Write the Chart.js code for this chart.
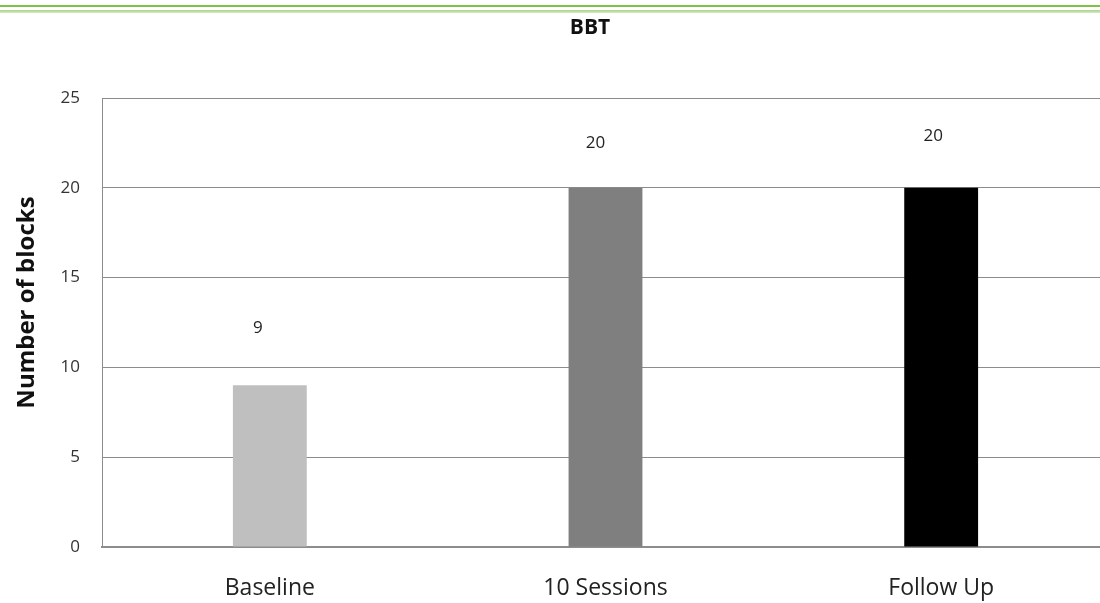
<!DOCTYPE html>
<html>
<head>
<meta charset="utf-8">
<script src="https://cdn.jsdelivr.net/npm/chart.js@4/dist/chart.umd.min.js"></script>
<style>
  html, body { margin: 0; padding: 0; background: #fff; overflow: hidden; }
  #wrap { position: relative; width: 1109px; height: 603px; }
  .rule { position: absolute; left: 0; width: 1100px; }
  #rule1 { top: 5px; height: 2px; background: #7dc243; }
  #rule2 { top: 10px; height: 3px; background: linear-gradient(#a8d48a, #d4eac4); }
</style>
</head>
<body>
<div id="wrap">
  <div class="rule" id="rule1"></div>
  <div class="rule" id="rule2"></div>
  <canvas id="c" width="1109" height="603"></canvas>
</div>
<script>
// Box and Block Test scores per assessment point
const chartTitle = 'BBT';
const categories = ['Baseline', '10 Sessions', 'Follow Up'];
const blocks = [9, 20, 20];
const barColors = ['#bfbfbf', '#7f7f7f', '#000000'];
const yTicks = [0, 5, 10, 15, 20, 25];
const yTitle = 'Number of blocks';

const FONT = '"Open Sans", sans-serif';

// value labels floating above each bar
const valueLabels = {
  id: 'valueLabels',
  afterDatasetsDraw(chart) {
    const ctx = chart.ctx;
    const meta = chart.getDatasetMeta(0);
    const lift = [57, 45, 52];
    ctx.save();
    ctx.font = '17px ' + FONT;
    ctx.fillStyle = '#222';
    ctx.textAlign = 'center';
    ctx.textBaseline = 'middle';
    meta.data.forEach((bar, i) => {
      ctx.fillText(String(blocks[i]), bar.x - 12 + i * 2, bar.y - lift[i]);
    });
    ctx.restore();
  }
};

// chart heading and rotated value-axis caption
const captions = {
  id: 'captions',
  afterDraw(chart) {
    const ctx = chart.ctx;
    const area = chart.chartArea;
    ctx.save();
    ctx.font = 'bold 21px ' + FONT;
    ctx.fillStyle = '#111';
    ctx.textAlign = 'center';
    ctx.textBaseline = 'middle';
    ctx.fillText(chartTitle, 590, 28);

    ctx.translate(27, (area.top + area.bottom) / 2 - 20);
    ctx.rotate(-Math.PI / 2);
    ctx.font = 'bold 24px ' + FONT;
    ctx.fillText(yTitle, 0, 0);
    ctx.restore();
  }
};

new Chart(document.getElementById('c'), {
  type: 'bar',
  data: {
    labels: categories,
    datasets: [{
      data: blocks,
      backgroundColor: barColors,
      borderWidth: 0,
      categoryPercentage: 1,
      barPercentage: 0.22
    }]
  },
  options: {
    responsive: false,
    animation: false,
    layout: { padding: { top: 98, right: 0, left: 0, bottom: 0 } },
    plugins: { legend: { display: false }, tooltip: { enabled: false } },
    scales: {
      x: {
        grid: { display: false, drawTicks: false },
        border: { color: '#8c8c8c', width: 2 },
        ticks: { padding: 28, color: '#222', font: { family: FONT, size: 23 } },
        afterFit(scale) { scale.height = 56; }
      },
      y: {
        min: 0,
        max: 25,
        afterBuildTicks(scale) { scale.ticks = yTicks.map(v => ({ value: v })); },
        grid: { color: '#8c8c8c', lineWidth: 1, drawTicks: false },
        border: { color: '#8c8c8c', width: 1 },
        ticks: { padding: 22, color: '#333', font: { family: FONT, size: 17 } },
        afterFit(scale) { scale.width = 102; }
      }
    }
  },
  plugins: [valueLabels, captions]
});
</script>
</body>
</html>
